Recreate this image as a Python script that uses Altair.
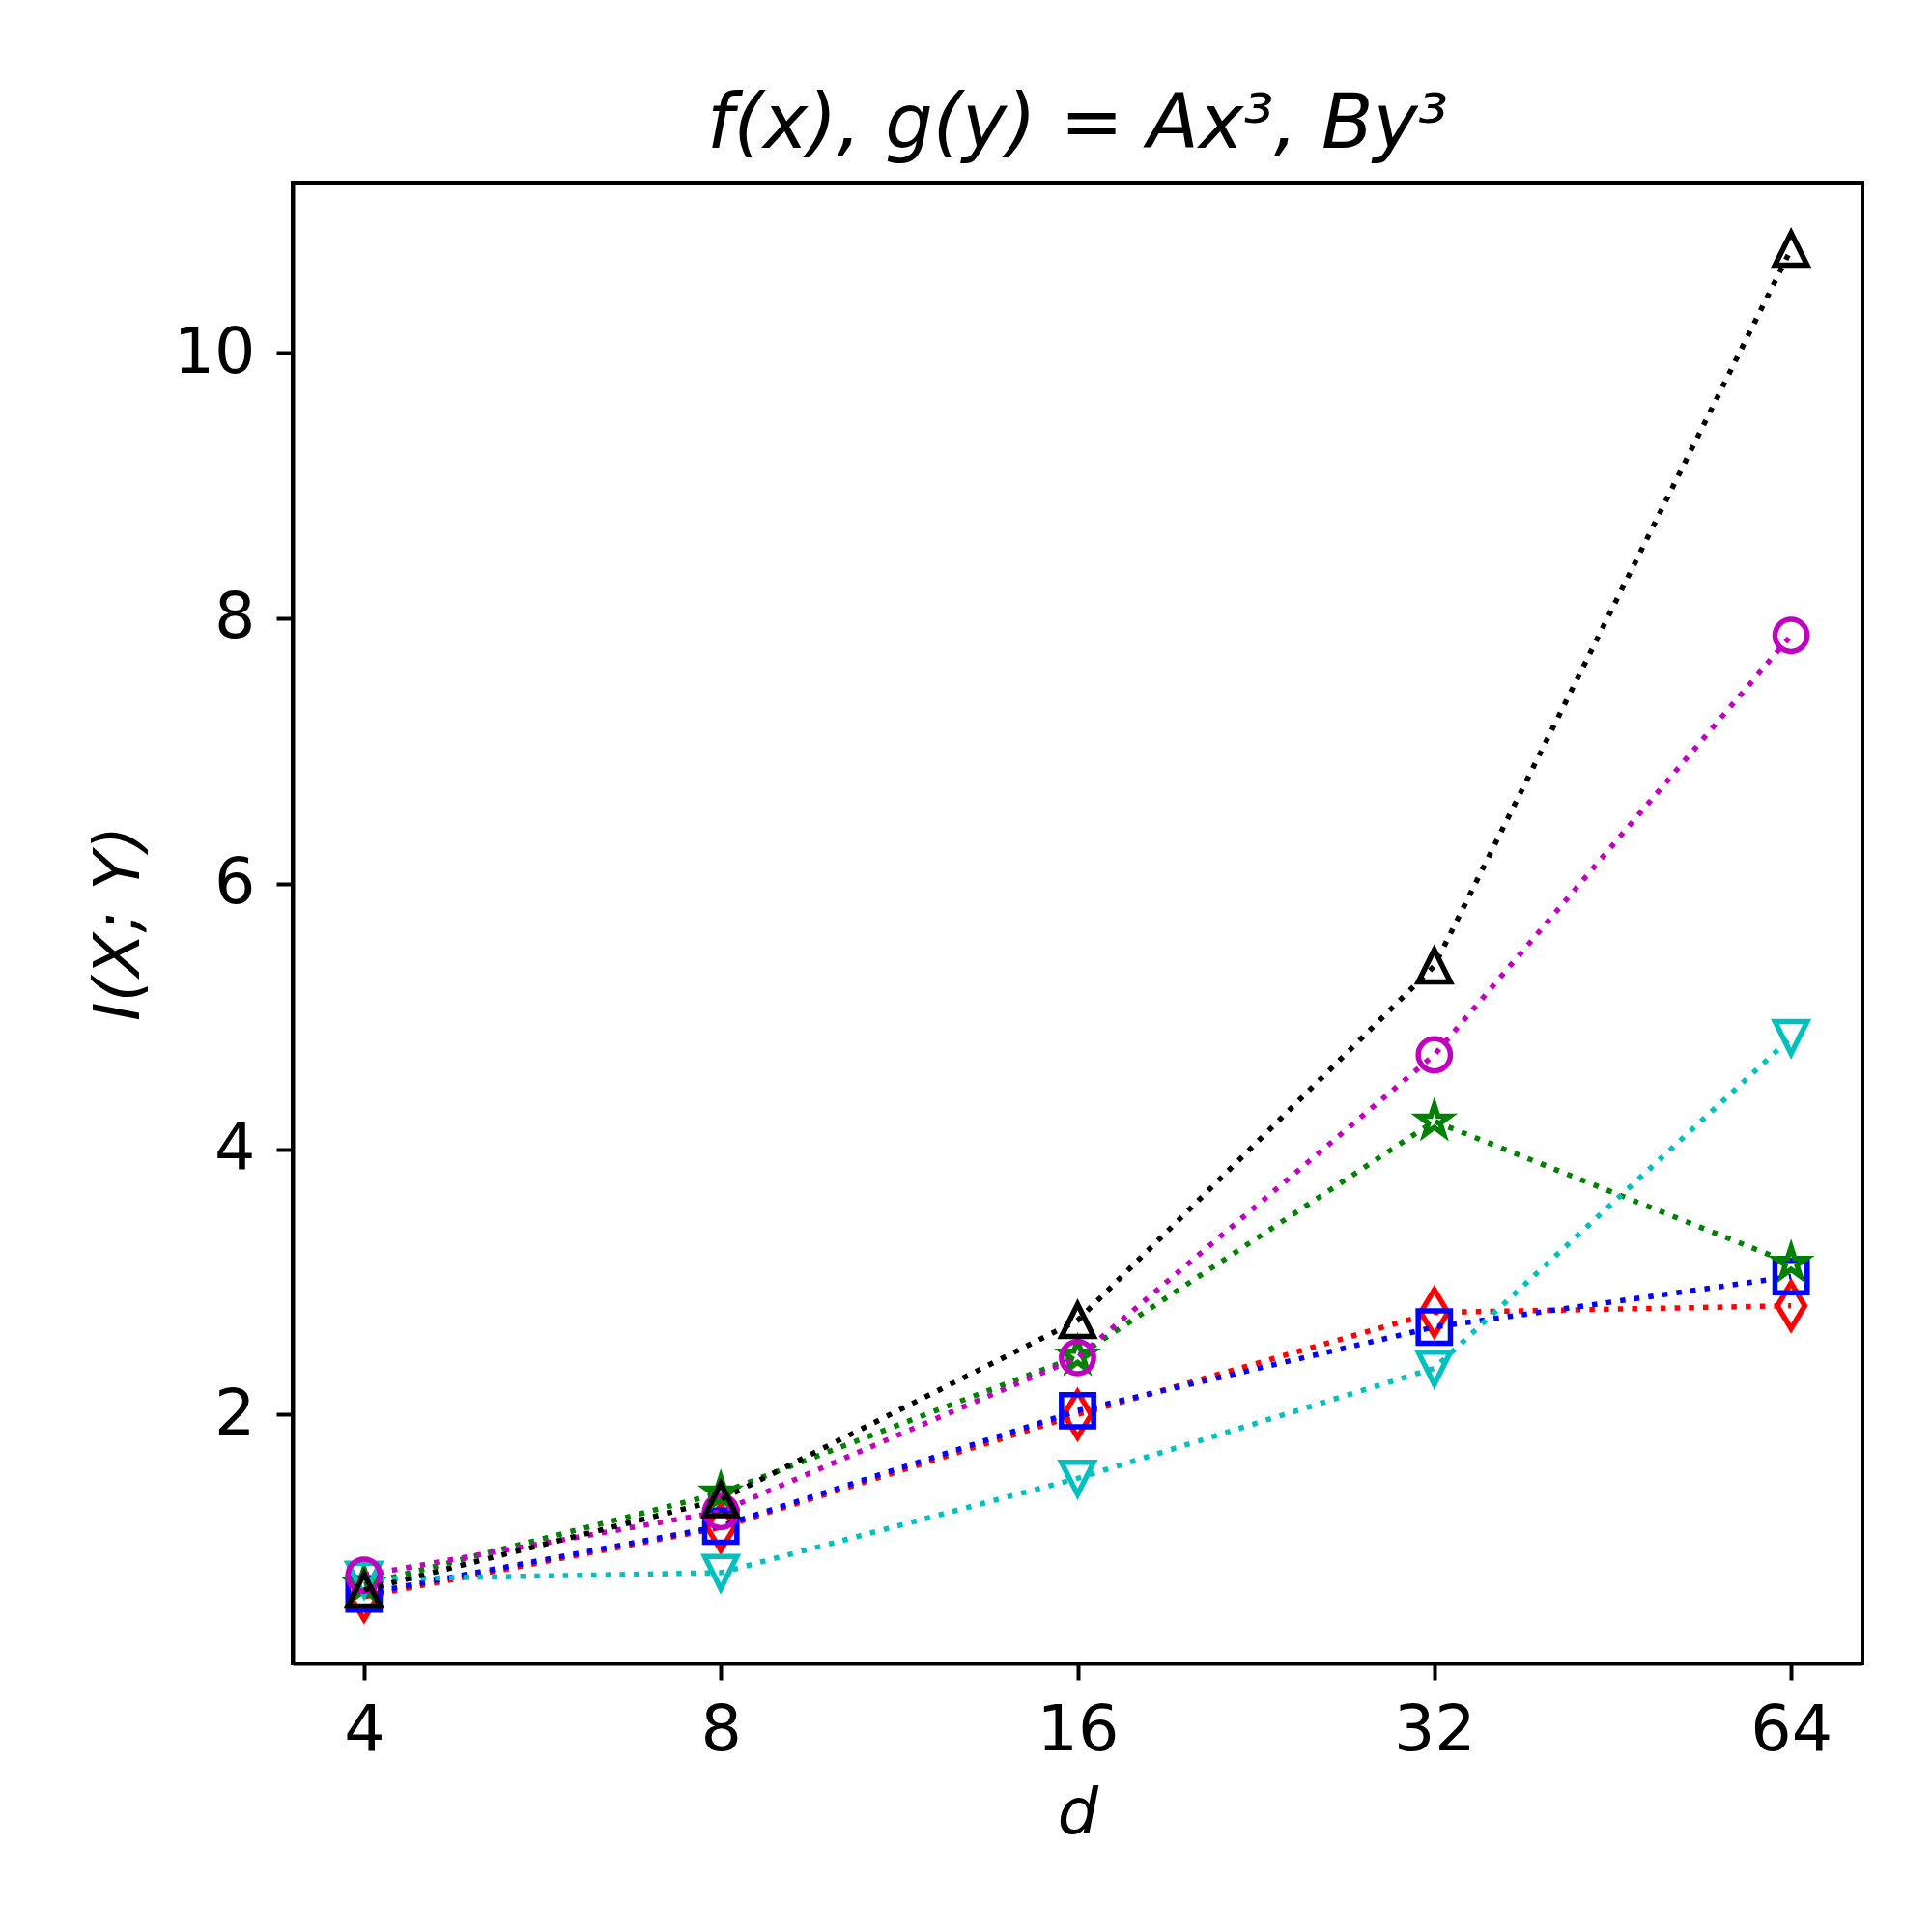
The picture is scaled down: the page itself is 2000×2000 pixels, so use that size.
import math
import altair as alt
import pandas as pd

# ---- data ----
d_values = [4, 8, 16, 32, 64]
red_vals = [0.63, 1.15, 2.00, 2.77, 2.82]
blue_vals = [0.65, 1.16, 2.03, 2.66, 3.04]
green_vals = [0.72, 1.41, 2.44, 4.21, 3.14]
cyan_vals = [0.76, 0.81, 1.52, 2.35, 4.84]
magenta_vals = [0.79, 1.27, 2.43, 4.71, 7.87]
black_vals = [0.68, 1.36, 2.71, 5.38, 10.78]
y_ticks = [2, 4, 6, 8, 10]

# ---- styles ----
colors = ["#ff0000", "#0000ff", "#008000", "#00bfbf", "#bf00bf", "#000000"]
series_vals = [red_vals, blue_vals, green_vals, cyan_vals, magenta_vals, black_vals]

star_pts = []
for k in range(10):
    r = 1.0 if k % 2 == 0 else 0.381966
    a = -math.pi / 2 + k * math.pi / 5
    star_pts.append((r * math.cos(a), r * math.sin(a)))
star_path = "M" + "L".join(f"{x:.4f},{y:.4f}" for x, y in star_pts) + "Z"

shapes = [
    "M0,-1.414L0.849,0L0,1.414L-0.849,0Z",   # thin diamond
    "square",
    star_path,
    "M0,1L-1,-1L1,-1Z",                      # triangle down
    "circle",
    "M0,-1L-1,1L1,1Z",                       # triangle up
]

FONT = "DejaVu Sans"
FS = 66.7
LW = 5.5

x_enc = alt.X(
    "d:Q",
    scale=alt.Scale(type="log", base=2, domain=[3.4822, 73.5167], nice=False, zero=False),
    axis=alt.Axis(
        values=d_values, format="d", title="d",
        labelFont=FONT, labelFontSize=FS, labelColor="black", labelPadding=19,
        tickSize=17, tickWidth=4, tickColor="black",
        domain=True, domainColor="black", domainWidth=4,
        grid=False, labelFlush=False,
        titleFont=FONT, titleFontSize=FS, titleFontStyle="italic", titleFontWeight="normal",
        titleColor="black", titleBaseline="alphabetic", titleY=175,
    ),
)
y_enc = alt.Y(
    "I:Q",
    scale=alt.Scale(domain=[0.126, 11.281], nice=False, zero=False),
    axis=alt.Axis(
        values=y_ticks, title="I(X; Y)",
        labelFont=FONT, labelFontSize=FS, labelColor="black", labelPadding=22,
        tickSize=17, tickWidth=4, tickColor="black",
        domain=True, domainColor="black", domainWidth=4,
        grid=False, labelFlush=False,
        titleFont=FONT, titleFontSize=FS, titleFontStyle="italic", titleFontWeight="normal",
        titleColor="black", titleBaseline="alphabetic", titleX=-160, titleAngle=270,
    ),
)

layers = []
for vals, col, shp in zip(series_vals, colors, shapes):
    df = pd.DataFrame({"d": d_values, "I": vals})
    line = alt.Chart(df).mark_line(
        color=col, strokeWidth=LW, strokeDash=[LW, 9.2], strokeCap="butt"
    ).encode(x=x_enc, y=y_enc)
    pts = alt.Chart(df).mark_point(
        shape=shp, filled=False, stroke=col, strokeWidth=LW, size=1111, opacity=1
    ).encode(x=x_enc, y=y_enc)
    layers += [line, pts]

chart = alt.layer(*layers).properties(
    width=1625,
    height=1533,
    padding={"left": 295, "top": 181, "right": 60, "bottom": 260},
    autosize=alt.AutoSizeParams(type="none"),
    background="white",
    title=alt.TitleParams(
        "f(x), g(y) = Ax³, By³",
        font=FONT, fontSize=78, fontStyle="italic", fontWeight="normal",
        color="black", anchor="middle", frame="group",
        baseline="alphabetic", offset=-42,
    ),
).configure_view(stroke="black", strokeWidth=4)

chart.save("out.html", embed_options={"renderer": "svg", "actions": False})
